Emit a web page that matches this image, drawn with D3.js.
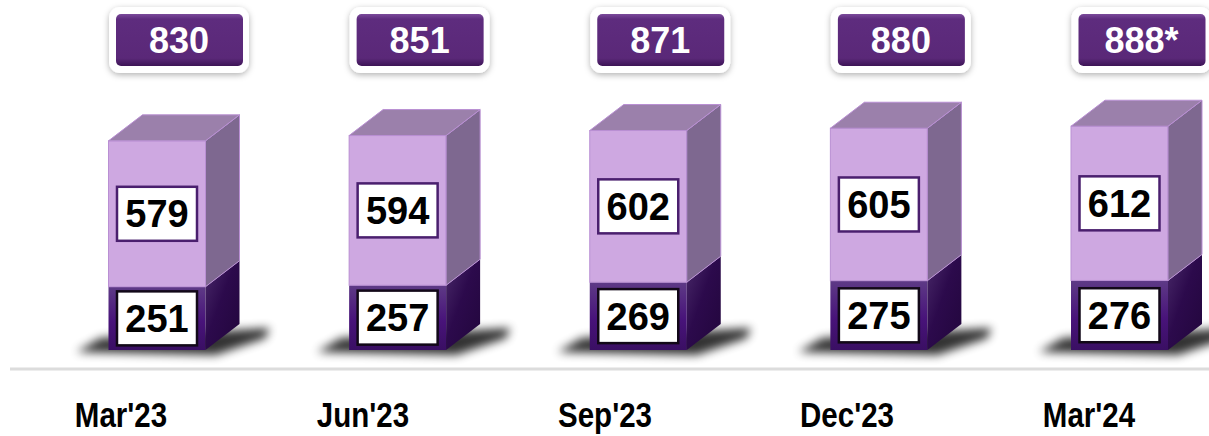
<!DOCTYPE html>
<html>
<head>
<meta charset="utf-8">
<script src="https://cdn.jsdelivr.net/npm/d3@7"></script>
<style>
  html, body { margin: 0; padding: 0; background: #fff; }
  svg { display: block; }
</style>
</head>
<body>
<div id="chart"></div>
<script>
// quarter labels and the two stacked series
const quarters = ["Mar'23", "Jun'23", "Sep'23", "Dec'23", "Mar'24"];
const lowerValues = [251, 257, 269, 275, 276];
const upperValues = [579, 594, 602, 605, 612];
const totalNotes = ['', '', '', '', '*'];

const width = 1209, height = 436;
const barW = 97, dx = 34, dy = 26;

const svg = d3.select('#chart').append('svg')
    .attr('width', width)
    .attr('height', height);

const defs = svg.append('defs');

const x = d3.scalePoint().domain(quarters).range([157, 1119.5]);
const xLabel = d3.scalePoint().domain(quarters).range([121, 1089]);
const y = d3.scaleLinear().domain([0, 1000]).range([350, 98]);

// gradients / filters
const lowGrad = defs.append('linearGradient').attr('id', 'lowFront')
    .attr('x1', 0).attr('y1', 0).attr('x2', 0).attr('y2', 1);
lowGrad.append('stop').attr('offset', '0%').attr('stop-color', '#5e3a86');
lowGrad.append('stop').attr('offset', '55%').attr('stop-color', '#48137a');
lowGrad.append('stop').attr('offset', '100%').attr('stop-color', '#3a0f63');

const lowSide = defs.append('linearGradient').attr('id', 'lowSide')
    .attr('x1', 0).attr('y1', 0).attr('x2', 1).attr('y2', 1);
lowSide.append('stop').attr('offset', '0%').attr('stop-color', '#4a2a6a');
lowSide.append('stop').attr('offset', '45%').attr('stop-color', '#2c0a4c');
lowSide.append('stop').attr('offset', '100%').attr('stop-color', '#22063c');

const boxGrad = defs.append('linearGradient').attr('id', 'boxGrad')
    .attr('x1', 0).attr('y1', 0).attr('x2', 0).attr('y2', 1);
boxGrad.append('stop').attr('offset', '0%').attr('stop-color', '#7a4a9a');
boxGrad.append('stop').attr('offset', '10%').attr('stop-color', '#5e2c7e');
boxGrad.append('stop').attr('offset', '85%').attr('stop-color', '#5a2878');
boxGrad.append('stop').attr('offset', '100%').attr('stop-color', '#3d1456');

defs.append('filter').attr('id', 'blur')
    .attr('x', '-50%').attr('y', '-100%').attr('width', '200%').attr('height', '300%')
  .append('feGaussianBlur').attr('stdDeviation', 5);

const drop = defs.append('filter').attr('id', 'drop')
    .attr('x', '-20%').attr('y', '-30%').attr('width', '140%').attr('height', '170%');
drop.append('feDropShadow').attr('dx', 0).attr('dy', 2).attr('stdDeviation', 3)
    .attr('flood-color', '#000').attr('flood-opacity', 0.3);

// baseline
svg.append('line')
    .attr('x1', 10).attr('x2', width)
    .attr('y1', 369).attr('y2', 369)
    .attr('stroke', '#dcdcdc').attr('stroke-width', 3);

const data = quarters.map((q, i) => ({
    q, low: lowerValues[i], up: upperValues[i], note: totalNotes[i]
}));

const bars = svg.append('g').selectAll('g')
    .data(data)
    .enter()
    .append('g');

// soft shadow on the floor
bars.append('path')
    .attr('d', d => {
        const x0 = x(d.q) - barW / 2, x1 = x0 + barW, b = y(0);
        return `M${x0 - 32},${b + 2} L${x0 - 8},${b - 12} L${x1 + dx + 30},${b - dy + 4} L${x1 + dx + 26},${b - dy + 14} L${x1 + 10},${b + 5} Z`;
    })
    .attr('fill', '#000')
    .attr('opacity', 0.8)
    .attr('filter', 'url(#blur)');

function side(x1, yt, yb) {
    return `M${x1},${yt} L${x1 + dx},${yt - dy} L${x1 + dx},${yb - dy} L${x1},${yb} Z`;
}

// lower segment
bars.append('rect')
    .attr('x', d => x(d.q) - barW / 2)
    .attr('y', d => y(d.low))
    .attr('width', barW)
    .attr('height', d => y(0) - y(d.low))
    .attr('fill', 'url(#lowFront)');
bars.append('path')
    .attr('d', d => side(x(d.q) + barW / 2, y(d.low), y(0)))
    .attr('fill', 'url(#lowSide)');

// upper segment
bars.append('rect')
    .attr('x', d => x(d.q) - barW / 2)
    .attr('y', d => y(d.low + d.up))
    .attr('width', barW)
    .attr('height', d => y(d.low) - y(d.low + d.up))
    .attr('fill', '#cea8e1')
    .attr('stroke', '#b98fd3').attr('stroke-width', 1);
bars.append('path')
    .attr('d', d => side(x(d.q) + barW / 2, y(d.low + d.up), y(d.low)))
    .attr('fill', '#7e6890')
    .attr('stroke', '#b98fd3').attr('stroke-width', 1);
bars.append('path')
    .attr('d', d => {
        const x0 = x(d.q) - barW / 2, yt = y(d.low + d.up);
        return `M${x0},${yt} L${x0 + dx},${yt - dy} L${x0 + barW + dx},${yt - dy} L${x0 + barW},${yt} Z`;
    })
    .attr('fill', '#9b80ab')
    .attr('stroke', '#b98fd3').attr('stroke-width', 1);

// value boxes inside segments
const boxW = 80, boxH = 54;
function valueBox(sel, val, mid, stroke) {
    sel.append('rect')
        .attr('x', d => x(d.q) - boxW / 2)
        .attr('y', d => mid(d) - boxH / 2)
        .attr('width', boxW).attr('height', boxH)
        .attr('fill', '#fff')
        .attr('stroke', stroke).attr('stroke-width', 2.5);
    sel.append('text')
        .attr('x', d => x(d.q))
        .attr('y', d => mid(d))
        .attr('dy', '0.36em')
        .attr('text-anchor', 'middle')
        .style('font-family', "'Liberation Sans', Arial, sans-serif")
        .style('font-weight', 'bold')
        .style('font-size', '38px')
        .attr('fill', '#000')
        .text(val);
}
valueBox(bars, d => d.up, d => (y(d.low) + y(d.low + d.up)) / 2, '#4a1f6e');
valueBox(bars, d => d.low, d => (y(0) + y(d.low)) / 2, '#120818');

// total boxes at the top
const tot = svg.append('g').selectAll('g')
    .data(data)
    .enter()
    .append('g')
    .attr('transform', d => `translate(${x(d.q) + 22},40)`);

tot.append('rect')
    .attr('x', -70).attr('y', -33)
    .attr('width', 140).attr('height', 66)
    .attr('rx', 11)
    .attr('fill', '#fff')
    .attr('filter', 'url(#drop)');
tot.append('rect')
    .attr('x', -63).attr('y', -26)
    .attr('width', 127).attr('height', 52)
    .attr('rx', 5)
    .attr('fill', 'url(#boxGrad)');
tot.append('text')
    .attr('y', 0)
    .attr('dy', '0.36em')
    .attr('text-anchor', 'middle')
    .style('font-family', "'Liberation Sans', Arial, sans-serif")
    .style('font-weight', 'bold')
    .style('font-size', '36px')
    .attr('fill', '#fff')
    .text(d => (d.low + d.up) + d.note);

// quarter labels (condensed bold)
svg.append('g').selectAll('text')
    .data(quarters)
    .enter()
    .append('text')
    .attr('transform', d => `translate(${xLabel(d)},427) scale(0.82,1)`)
    .attr('text-anchor', 'middle')
    .style('font-family', "'Liberation Sans', Arial, sans-serif")
    .style('font-weight', 'bold')
    .style('font-size', '36px')
    .attr('fill', '#000')
    .text(d => d);
</script>
</body>
</html>
